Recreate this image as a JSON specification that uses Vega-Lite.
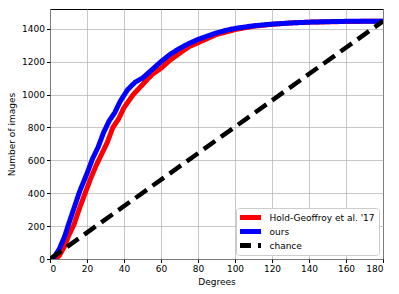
{
  "$schema": "https://vega.github.io/schema/vega-lite/v6.json",
  "width": 333,
  "height": 250,
  "autosize": {"type": "none"},
  "padding": {"left": 50, "top": 9, "right": 16, "bottom": 35},
  "config": {
    "font": "DejaVu Sans",
    "view": {"stroke": "#000", "strokeWidth": 1},
    "axis": {"gridColor": "#b0b0b0", "gridOpacity": 0.7, "gridWidth": 1, "domain": false, "tickColor": "#000", "tickSize": 3.5, "labelFontSize": 9, "labelColor": "#000", "titleFontSize": 9, "titleFontWeight": "normal", "titleColor": "#000"}
  },
  "datasets": {
    "curves": [
      {"series": "ours", "deg": 0, "n": 0},
      {"series": "ours", "deg": 2, "n": 8},
      {"series": "ours", "deg": 5, "n": 60},
      {"series": "ours", "deg": 8, "n": 140},
      {"series": "ours", "deg": 10, "n": 210},
      {"series": "ours", "deg": 13, "n": 310},
      {"series": "ours", "deg": 16, "n": 410},
      {"series": "ours", "deg": 20, "n": 520},
      {"series": "ours", "deg": 23, "n": 610},
      {"series": "ours", "deg": 26, "n": 680},
      {"series": "ours", "deg": 29, "n": 770},
      {"series": "ours", "deg": 32, "n": 840},
      {"series": "ours", "deg": 35, "n": 890},
      {"series": "ours", "deg": 38, "n": 960},
      {"series": "ours", "deg": 42, "n": 1030},
      {"series": "ours", "deg": 46, "n": 1075},
      {"series": "ours", "deg": 50, "n": 1100},
      {"series": "ours", "deg": 55, "n": 1150},
      {"series": "ours", "deg": 60, "n": 1200},
      {"series": "ours", "deg": 65, "n": 1245},
      {"series": "ours", "deg": 70, "n": 1280},
      {"series": "ours", "deg": 75, "n": 1310},
      {"series": "ours", "deg": 80, "n": 1335},
      {"series": "ours", "deg": 85, "n": 1355},
      {"series": "ours", "deg": 90, "n": 1375},
      {"series": "ours", "deg": 95, "n": 1390},
      {"series": "ours", "deg": 100, "n": 1402},
      {"series": "ours", "deg": 110, "n": 1418},
      {"series": "ours", "deg": 120, "n": 1428},
      {"series": "ours", "deg": 130, "n": 1435},
      {"series": "ours", "deg": 140, "n": 1440},
      {"series": "ours", "deg": 150, "n": 1443},
      {"series": "ours", "deg": 160, "n": 1445},
      {"series": "ours", "deg": 170, "n": 1446},
      {"series": "ours", "deg": 180, "n": 1446},
      {"series": "Hold-Geoffroy et al. '17", "deg": 0, "n": 0},
      {"series": "Hold-Geoffroy et al. '17", "deg": 3, "n": 0},
      {"series": "Hold-Geoffroy et al. '17", "deg": 5, "n": 20},
      {"series": "Hold-Geoffroy et al. '17", "deg": 8, "n": 80},
      {"series": "Hold-Geoffroy et al. '17", "deg": 10, "n": 140},
      {"series": "Hold-Geoffroy et al. '17", "deg": 13, "n": 210},
      {"series": "Hold-Geoffroy et al. '17", "deg": 16, "n": 310},
      {"series": "Hold-Geoffroy et al. '17", "deg": 19, "n": 400},
      {"series": "Hold-Geoffroy et al. '17", "deg": 22, "n": 490},
      {"series": "Hold-Geoffroy et al. '17", "deg": 25, "n": 570},
      {"series": "Hold-Geoffroy et al. '17", "deg": 28, "n": 640},
      {"series": "Hold-Geoffroy et al. '17", "deg": 31, "n": 710},
      {"series": "Hold-Geoffroy et al. '17", "deg": 34, "n": 800},
      {"series": "Hold-Geoffroy et al. '17", "deg": 37, "n": 850},
      {"series": "Hold-Geoffroy et al. '17", "deg": 40, "n": 920},
      {"series": "Hold-Geoffroy et al. '17", "deg": 45, "n": 1000},
      {"series": "Hold-Geoffroy et al. '17", "deg": 50, "n": 1060},
      {"series": "Hold-Geoffroy et al. '17", "deg": 55, "n": 1120},
      {"series": "Hold-Geoffroy et al. '17", "deg": 60, "n": 1160},
      {"series": "Hold-Geoffroy et al. '17", "deg": 65, "n": 1210},
      {"series": "Hold-Geoffroy et al. '17", "deg": 70, "n": 1250},
      {"series": "Hold-Geoffroy et al. '17", "deg": 75, "n": 1290},
      {"series": "Hold-Geoffroy et al. '17", "deg": 80, "n": 1315},
      {"series": "Hold-Geoffroy et al. '17", "deg": 85, "n": 1340},
      {"series": "Hold-Geoffroy et al. '17", "deg": 90, "n": 1365},
      {"series": "Hold-Geoffroy et al. '17", "deg": 95, "n": 1380},
      {"series": "Hold-Geoffroy et al. '17", "deg": 100, "n": 1395},
      {"series": "Hold-Geoffroy et al. '17", "deg": 110, "n": 1415},
      {"series": "Hold-Geoffroy et al. '17", "deg": 120, "n": 1427},
      {"series": "Hold-Geoffroy et al. '17", "deg": 130, "n": 1435},
      {"series": "Hold-Geoffroy et al. '17", "deg": 140, "n": 1440},
      {"series": "Hold-Geoffroy et al. '17", "deg": 160, "n": 1444},
      {"series": "Hold-Geoffroy et al. '17", "deg": 180, "n": 1446},
      {"series": "chance", "deg": 0, "n": 0},
      {"series": "chance", "deg": 180, "n": 1446}
    ]
  },
  "data": {"name": "curves"},
  "encoding": {
    "x": {"field": "deg", "type": "quantitative", "scale": {"domain": [0, 180], "nice": false}, "axis": {"title": "Degrees", "format": "d", "values": [0, 20, 40, 60, 80, 100, 120, 140, 160, 180], "labelPadding": 2, "titlePadding": 4}},
    "y": {"field": "n", "type": "quantitative", "scale": {"domain": [0, 1520], "nice": false}, "axis": {"title": "Number of images", "format": "d", "values": [0, 200, 400, 600, 800, 1000, 1200, 1400], "labelPadding": 2, "titlePadding": 5}},
    "color": {"field": "series", "type": "nominal", "scale": {"domain": ["Hold-Geoffroy et al. '17", "ours", "chance"], "range": ["#ff0000", "#0000ff", "#000000"]},
      "legend": {"title": null, "orient": "none", "legendX": 186, "legendY": 199, "symbolType": "M-4,0H4", "symbolStrokeWidth": 5, "symbolSize": 36, "symbolOffset": 3.5, "clipHeight": 11, "labelFontSize": 9, "labelColor": "#000", "labelOffset": 15, "fillColor": "#ffffff", "strokeColor": "#cccccc", "padding": 4, "cornerRadius": 3, "rowPadding": 3}},
    "strokeDash": {"field": "series", "type": "nominal", "scale": {"domain": ["Hold-Geoffroy et al. '17", "ours", "chance"], "range": [[1, 0], [1, 0], [14, 7]]}, "legend": null}
  },
  "layer": [
    {"transform": [{"filter": "datum.series === \"Hold-Geoffroy et al. '17\""}], "mark": {"type": "line", "strokeWidth": 5, "clip": true}},
    {"transform": [{"filter": "datum.series === 'ours'"}], "mark": {"type": "line", "strokeWidth": 5, "clip": true}},
    {"transform": [{"filter": "datum.series === 'chance'"}], "mark": {"type": "line", "strokeWidth": 4.5, "clip": true}}
  ]
}
